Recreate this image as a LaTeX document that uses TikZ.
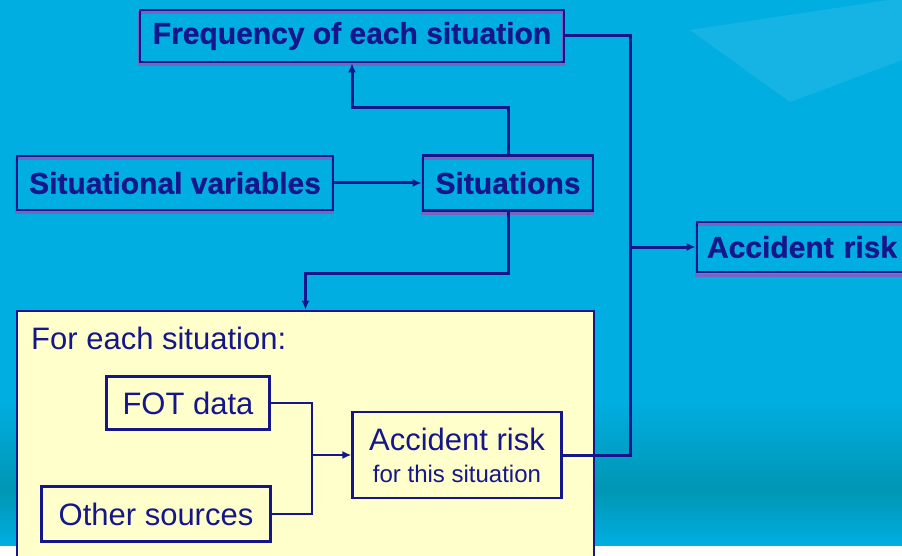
\documentclass[tikz,border=0pt]{standalone}
\usepackage{fontspec}
\setmainfont{Liberation Sans}[BoldFeatures={FakeBold=0.8}]
\usetikzlibrary{arrows.meta}

\definecolor{bgblue}{RGB}{0,174,225}
\definecolor{bglight}{RGB}{70,196,236}
\definecolor{bgteal}{RGB}{0,150,180}
\definecolor{navy}{RGB}{22,22,140}
\definecolor{boxshade}{RGB}{118,102,196}
\definecolor{paleyellow}{RGB}{255,255,204}

\tikzset{
  topbox/.style={draw=navy, line width=2.8pt, text=navy, inner sep=0pt,
    font=\bfseries\fontsize{30}{34}\selectfont,
    preaction={draw=boxshade, line width=3pt,
      transform canvas={shift={(-1pt,-3pt)}}}},
  inbox/.style={draw=navy, line width=2.2pt, text=navy, inner sep=0pt,
    fill=paleyellow, font=\fontsize{31}{34}\selectfont},
  link/.style={draw=navy, line width=3pt},
  inlink/.style={draw=navy, line width=2.2pt},
  tip/.style={-{Latex[length=9pt,width=8pt]}}
}

\begin{document}
\begin{tikzpicture}[x=1pt,y=1pt,yscale=-1,xscale=1]
\clip (0,0) rectangle (902,556);

%Background
\fill[white] (0,0) rectangle (902,556);
\fill[bgblue] (0,0) rectangle (902,545);
\fill[bglight, opacity=0.3] (690,30) -- (902,-2) -- (902,60) -- (790,102) -- cycle;
\shade[top color=bgblue, bottom color=bgteal] (0,400) rectangle (902,490);
\shade[top color=bgteal, bottom color=bgblue] (0,490) rectangle (902,545);

%Container: for each situation
\node[inbox, line width=2.6pt, minimum width=577pt, minimum height=290pt] (each) at (305.5,456) {};
\node[anchor=base west, inner sep=0pt, text=navy, font=\fontsize{31}{34}\selectfont] (eachlbl) at (31,349) {For each situation:};

%Top boxes
\node[topbox, minimum width=424pt, minimum height=52pt] (freq) at (352,36) {Frequency of each situation};
\node[topbox, minimum width=316pt, minimum height=54pt] (sitvar) at (175,183) {Situational variables};
\node[topbox, minimum width=170pt, minimum height=55pt] (sit) at (508,183) {Situations};
\node[topbox, minimum width=240pt, minimum height=50pt, text width=220pt, align=left] (risk) at (817,247) {Accident risk};

%Inner boxes
\node[inbox, minimum width=163pt, minimum height=53pt] (fot) at (188,403) {FOT data};
\node[inbox, minimum width=229pt, minimum height=55pt] (other) at (156,514) {Other sources};
\node[inbox, minimum width=209pt, minimum height=86pt, align=center] (sitrisk) at (457,455)
  {Accident risk\\[-2pt]{\fontsize{24}{28}\selectfont for this situation}};

%Connectors
\coordinate (bus) at (630,247);
\coordinate (join) at (312,455);
\draw[link, tip] (sitvar.east) -- (sit.west);
\draw[link, tip] (sit.north) -- ++(0,-47) -| (freq.south);
\draw[link, tip] (sit.south) -- ++(0,62) -| (each.north);
\draw[link] (freq.east) -| (bus) |- (sitrisk.east);
\draw[link, tip] (bus) -- (risk.west);
\draw[inlink] (fot.east) -| (join);
\draw[inlink] (other.east) -| (join);
\draw[inlink, tip] (join) -- (sitrisk.west);

\end{tikzpicture}
\end{document}
